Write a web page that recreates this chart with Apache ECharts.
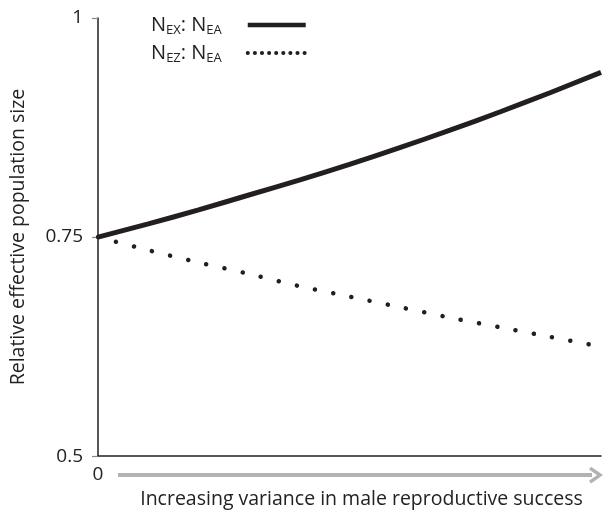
<!DOCTYPE html>
<html>
<head>
<meta charset="utf-8">
<script src="https://cdn.jsdelivr.net/npm/echarts@6/dist/echarts.min.js"></script>
<style>html,body{margin:0;padding:0;background:#fff;}#c{width:604px;height:514px;}</style>
</head>
<body>
<div id="c"></div>
<script>
// Data (x in relative units 0..1 along the variance axis)
var xValues = [0, 0.1, 0.2, 0.3, 0.4, 0.5, 0.6, 0.7, 0.8, 0.9, 1.0];
var nexNea = [0.750, 0.765, 0.781, 0.798, 0.815, 0.833, 0.852, 0.872, 0.893, 0.915, 0.938];
var nezNea = [0.750, 0.735, 0.721, 0.708, 0.694, 0.682, 0.670, 0.658, 0.647, 0.636, 0.625];
var yTicks = [0.5, 0.75, 1];
var seriesNames = ['NEX', 'NEZ'];
var xTitle = 'Increasing variance in male reproductive success';
var yTitle = 'Relative effective population size';

function pairs(xs, ys) { return xs.map(function (x, i) { return [x, ys[i]]; }); }

var FONT = '"Open Sans", "Liberation Sans", sans-serif';
var chart = echarts.init(document.getElementById('c'), null, {renderer: 'canvas'});
var legendRich = {
  n: {fontSize: 20, lineHeight: 24, color: '#222', fontFamily: FONT, verticalAlign: 'middle'},
  s: {fontSize: 13, lineHeight: 13, color: '#222', fontFamily: FONT, verticalAlign: 'bottom'},
  p: {width: 21}
};
var option = {
  animation: false,
  backgroundColor: '#fff',
  grid: {left: 98, right: 1, top: 18, bottom: 55, containLabel: false},
  xAxis: {
    type: 'value', min: 0, max: 1, interval: 1,
    axisLine: {show: true, lineStyle: {color: '#231f20', width: 1.5}},
    axisTick: {show: false},
    splitLine: {show: false},
    axisLabel: {
      margin: 9, fontSize: 19, color: '#222', fontFamily: FONT,
      formatter: function (v) { return v === 0 ? '0' : ''; }
    },
    name: xTitle, nameLocation: 'middle', nameGap: 30,
    nameTextStyle: {fontSize: 19.5, color: '#222', fontFamily: FONT, padding: [0, 0, 0, 24]}
  },
  yAxis: {
    type: 'value', min: yTicks[0], max: yTicks[yTicks.length - 1], interval: 0.25,
    axisLine: {show: true, lineStyle: {color: '#231f20', width: 1.5}},
    axisTick: {show: true, length: 6, lineStyle: {color: '#888', width: 1.2}},
    splitLine: {show: false},
    axisLabel: {margin: 15, fontSize: 19, color: '#222', fontFamily: FONT},
    name: yTitle, nameLocation: 'middle', nameGap: 70, nameRotate: 90,
    nameTextStyle: {fontSize: 19.5, color: '#222', fontFamily: FONT, padding: [0, 0, 0, 0]}
  },
  legend: {
    orient: 'vertical', left: 146, top: 10, itemGap: 6,
    itemWidth: 58, itemHeight: 14, align: 'right',
    itemStyle: {opacity: 0},
    data: [
      {name: seriesNames[0], lineStyle: {width: 4.5, color: '#231f20', type: 'solid'}},
      {name: seriesNames[1], lineStyle: {width: 4, color: '#231f20', type: [0.1, 7], cap: 'round'}}
    ],
    formatter: function (name) {
      return name === 'NEX'
        ? '{n|N}{s|EX}{n|: N}{s|EA}{p|}'
        : '{n|N}{s|EZ}{n|: N}{s|EA}{p|}';
    },
    textStyle: {rich: legendRich}
  },
  series: [
    {
      name: seriesNames[0], type: 'line', data: pairs(xValues, nexNea),
      symbol: 'none', smooth: 0.3, clip: false,
      lineStyle: {color: '#231f20', width: 5}
    },
    {
      name: seriesNames[1], type: 'line', data: pairs(xValues, nezNea),
      symbol: 'none', smooth: 0.3, clip: false,
      lineStyle: {color: '#231f20', width: 4.5, type: [0.1, 18.5], cap: 'round'}
    }
  ]
};
chart.setOption(option);

// Decorative gray arrow below the x axis
var p0 = chart.convertToPixel({gridIndex: 0}, [0, 0.5]);
var p1 = chart.convertToPixel({gridIndex: 0}, [1, 0.5]);
var ay = p0[1] + 19;
var ax0 = p0[0] + 20, ax1 = p1[0] + 1;
chart.setOption({
  graphic: [
    {type: 'line', shape: {x1: ax0, y1: ay, x2: ax1 - 10, y2: ay}, style: {stroke: '#b3b3b3', lineWidth: 4}},
    {type: 'polyline', shape: {points: [[ax1 - 12, ay - 7], [ax1 - 2, ay], [ax1 - 12, ay + 7]]}, style: {stroke: '#b3b3b3', lineWidth: 3.5, fill: null}}
  ]
});
</script>
</body>
</html>
